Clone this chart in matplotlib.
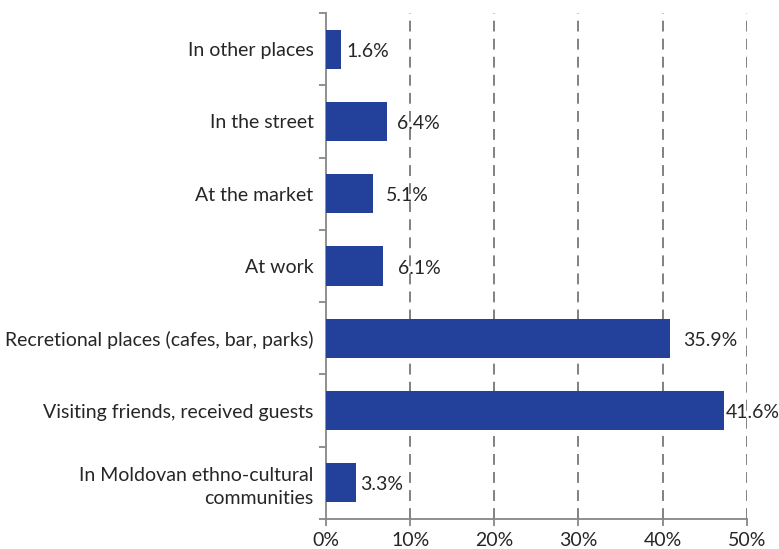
import numpy as np
import matplotlib.pyplot as plt

# Categorías (de arriba hacia abajo) y valores
categorias = [
    'In other places',
    'In the street',
    'At the market',
    'At work',
    'Recretional places (cafes, bar, parks)',
    'Visiting friends, received guests',
    'In Moldovan ethno-cultural\ncommunities',
]
longitud_barras = [1.78, 7.25, 5.59, 6.78, 40.9, 47.3, 3.57]  # largo de cada barra [%]
etiquetas = ['1.6%', '6.4%', '5.1%', '6.1%', '35.9%', '41.6%', '3.3%']
ticks_x = [0, 10, 20, 30, 40, 50]

# Desplazamiento de cada etiqueta respecto al extremo de la barra [pt]
desplaz = [4, 7, 9, 11, 9, 1, 3]

plt.rcParams['font.family'] = ['Lato', 'DejaVu Sans']
color_barra = '#23409a'
color_texto = '#262626'
color_eje = '#878787'

fig = plt.figure(figsize=(7.79, 5.49), dpi=100)
ax = fig.add_axes([326 / 779, 1 - 519 / 549, (746.7 - 326) / 779, (519 - 13) / 549])

y = np.arange(len(categorias))
ax.barh(y, longitud_barras, height=0.54, color=color_barra, zorder=3)

for yi, val, txt, dx in zip(y, longitud_barras, etiquetas, desplaz):
    ax.annotate(txt, (val, yi), xytext=(dx, -1.5), textcoords='offset points',
                ha='left', va='center', fontsize=14, color=color_texto, zorder=4)

ax.set_xlim(0, 50)
ax.set_ylim(len(categorias) - 0.5, -0.5)
ax.set_xticks(ticks_x)
ax.set_xticklabels([f'{t}%' for t in ticks_x], fontsize=14, color=color_texto)
ax.set_yticks(y)
ax.set_yticklabels(categorias, fontsize=14, color=color_texto, ha='right', linespacing=1.4)
ax.set_yticks(np.arange(len(categorias) + 1) - 0.5, minor=True)

# Rejilla vertical punteada
for t in ticks_x[1:]:
    ax.axvline(t, color='#777777', linewidth=1.3, linestyle=(0, (6, 4)), zorder=1)

for s in ['top', 'right']:
    ax.spines[s].set_visible(False)
for s in ['left', 'bottom']:
    ax.spines[s].set_color(color_eje)
    ax.spines[s].set_linewidth(1.3)

ax.tick_params(axis='y', which='major', length=0, pad=9)
ax.tick_params(axis='y', which='minor', length=5, width=1.3, color=color_eje)
ax.tick_params(axis='x', length=5, width=1.3, color=color_eje, pad=4)

fig.savefig('out.png', dpi=100)
